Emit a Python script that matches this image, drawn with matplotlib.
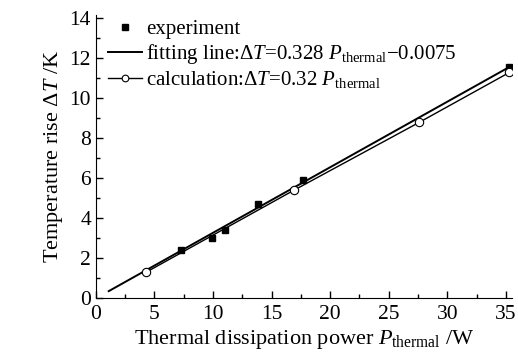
import numpy as np
import matplotlib
matplotlib.use("Agg")
import matplotlib.pyplot as plt
import matplotlib.ticker as ticker

# Data
exp_power = [7.3, 9.9, 11.0, 13.8, 17.7, 35.3]
exp_rise = [2.4, 3.0, 3.4, 4.7, 5.9, 11.55]

calc_power = [4.3, 16.9, 27.6, 35.3]
calc_rise = [1.3, 5.4, 8.8, 11.3]

fit_power = [1.1, 35.5]
fit_rise = [0.35, 11.64]

plt.rcParams["font.family"] = "Liberation Serif"
plt.rcParams["mathtext.fontset"] = "custom"
plt.rcParams["mathtext.rm"] = "Liberation Serif"
plt.rcParams["mathtext.it"] = "Liberation Serif:italic"

fig = plt.figure(figsize=(5.18, 3.52), dpi=100)
ax = fig.add_axes([0.185, 0.153, 0.803, 0.803])

ax.plot(exp_power, exp_rise, "s", color="black", markersize=5,
        label="experiment")
ax.plot(fit_power, fit_rise, "-", color="black", linewidth=1.4,
        label=r"fitting line:$\Delta T$=0.328 $P_{\rm thermal}$$-$0.0075")
ax.plot(calc_power, calc_rise, "-o", color="black", linewidth=1.0,
        markersize=6, markerfacecolor="white", markeredgewidth=0.8,
        label=r"calculation:$\Delta T$=0.32 $P_{\rm thermal}$")

ax.set_xlim(0, 35.5)
ax.set_ylim(0, 14.15)
ax.xaxis.set_major_locator(ticker.MultipleLocator(5))
ax.xaxis.set_minor_locator(ticker.MultipleLocator(2.5))
ax.yaxis.set_major_locator(ticker.MultipleLocator(2))
ax.yaxis.set_minor_locator(ticker.MultipleLocator(1))
ax.tick_params(which="both", direction="in", labelsize=15.5, width=1)
ax.tick_params(axis="x", which="major", pad=5)
ax.tick_params(which="major", length=5)
ax.tick_params(which="minor", length=3)
ax.spines["top"].set_visible(False)
ax.spines["right"].set_visible(False)

ax.set_xlabel(r"Thermal dissipation power $P_{\rm thermal}$ /W", fontsize=16,
              labelpad=3)
ax.set_ylabel(r"Temperature rise $\Delta T$ /K", fontsize=16, labelpad=3)

ax.legend(loc="upper left", frameon=False, fontsize=15, handlelength=1.6,
          handletextpad=0.2, borderaxespad=0.0, labelspacing=0.15,
          bbox_to_anchor=(0.01, 1.015), markerscale=0.8)

fig.savefig("out.png", dpi=100)
